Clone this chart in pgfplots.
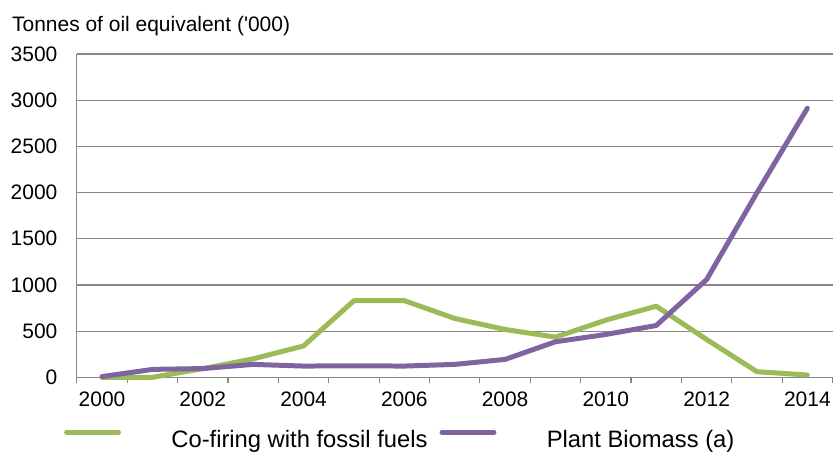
\documentclass[border=0pt]{standalone}
\usepackage{fontspec}
\setmainfont{Liberation Sans}
\usepackage{pgfplots}
\pgfplotsset{compat=1.18}
\definecolor{cgreen}{HTML}{9BBB59}
\definecolor{cpurple}{HTML}{8064A2}
\definecolor{cgrid}{HTML}{878787}
\newcommand{\lblfont}{\fontsize{21}{25}\selectfont}
\newcommand{\legfont}{\fontsize{23.8}{28}\selectfont}
\begin{document}
\begin{tikzpicture}
\path (0pt,0pt) rectangle (834pt,452pt);
\node[anchor=base west, inner sep=0pt] at (12pt,420.3pt) {\lblfont Tonnes of oil equivalent (\textquotesingle 000)};
\begin{axis}[
  at={(77pt,74pt)}, anchor=south west,
  scale only axis, width=757pt, height=324pt,
  xmin=1999.5, xmax=2014.5, ymin=0, ymax=3500,
  xtick={2000,2002,...,2014},
  minor xtick={1999.5,2000.5,...,2014.5},
  ytick={0,500,...,3500},
  axis x line*=bottom, axis y line*=left,
  axis line style={draw=cgrid, line width=1.2pt},
  ymajorgrids, grid style={draw=cgrid, line width=1.2pt},
  tick align=outside,
  major tick length=0pt, minor tick length=6pt,
  minor tick style={draw=cgrid, line width=1.2pt},
  /pgf/number format/1000 sep={},
  /pgf/number format/assume math mode=true,
  tick label style={font=\lblfont},
  yticklabel style={xshift=-16pt},
  xticklabel style={yshift=-11pt},
  clip=false,
  legend columns=-1,
  legend style={at={(axis description cs:-0.01717,-0.1923)}, anchor=west,
    draw=none, fill=none, inner sep=0pt, font=\legfont,
    nodes={inner sep=0pt},
    /tikz/every even column/.append style={column sep=12pt}},
  legend image code/.code={
    \draw[#1, line width=5pt, line cap=round] (2.5pt,7.7pt) -- (54.5pt,7.7pt);
    \path[draw=none, fill=none] (0pt,6pt) rectangle (107.5pt,8pt);
  },
]
\addplot[cgreen, line width=5pt, line join=round, line cap=round] coordinates {
(2000,0) (2001,0) (2002,94) (2003,200) (2004,340) (2005,830) (2006,830) (2007,637)
(2008,518) (2009,435) (2010,619) (2011,770) (2012,410) (2013,61) (2014,25)};
\addlegendentry{Co-firing with fossil fuels}
\addplot[cpurple, line width=5pt, line join=round, line cap=round] coordinates {
(2000,8) (2001,86) (2002,95) (2003,140) (2004,122) (2005,125) (2006,122) (2007,140)
(2008,194) (2009,385) (2010,464) (2011,561) (2012,1058) (2013,1998) (2014,2912)};
\addlegendentry{Plant Biomass (a)}
\end{axis}
\end{tikzpicture}
\end{document}
